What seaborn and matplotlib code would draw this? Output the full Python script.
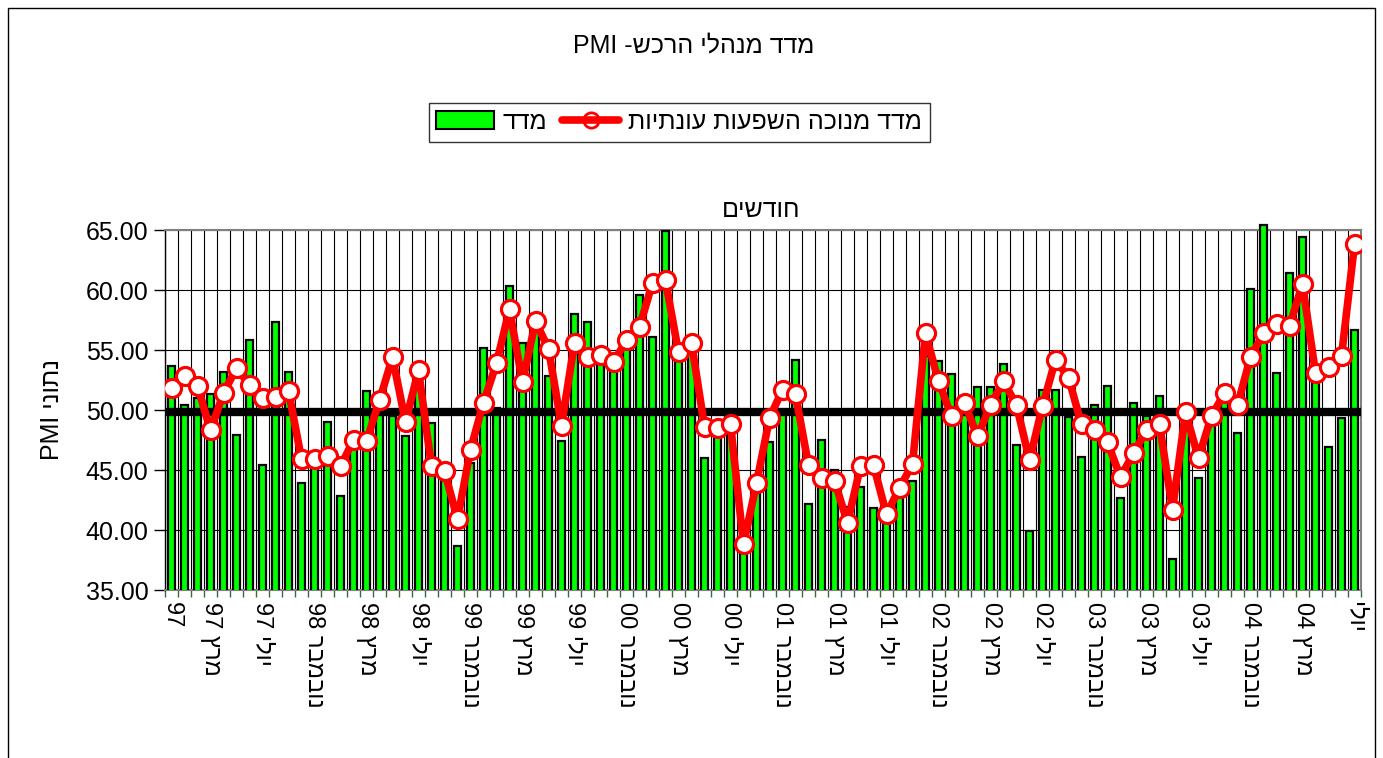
import re
import numpy as np
import pandas as pd
import matplotlib
matplotlib.use("Agg")
import matplotlib.pyplot as plt
import seaborn as sns
from matplotlib.patches import Patch, Rectangle
from matplotlib.lines import Line2D

# ---------------- data ----------------
pmi = [53.7, 50.4, 51.0, 51.3, 53.2, 47.9, 55.8, 45.4, 57.3, 53.2,
       43.9, 45.5, 49.0, 42.8, 47.0, 51.6, 50.0, 49.5, 47.8, 53.2,
       48.9, 45.0, 38.7, 45.6, 55.2, 50.2, 60.3, 55.6, 57.0, 52.8,
       47.4, 58.0, 57.3, 54.5, 54.0, 55.3, 59.6, 56.1, 64.9, 54.5,
       56.1, 46.0, 48.3, 48.5, 38.5, 44.0, 47.3, 50.0, 54.2, 42.2,
       47.5, 45.0, 41.9, 43.6, 41.8, 42.0, 43.8, 44.1, 54.5, 54.1,
       53.0, 50.5, 51.9, 51.9, 53.8, 47.1, 39.9, 51.7, 51.7, 49.4,
       46.1, 50.4, 52.0, 42.7, 50.6, 49.5, 51.2, 37.6, 49.5, 44.3,
       49.7, 51.0, 48.1, 60.1, 65.4, 53.1, 61.4, 64.4, 52.8, 46.9,
       49.3, 56.7]

pmi_sa = [51.8, 52.8, 52.0, 48.3, 51.4, 53.5, 52.1, 51.0, 51.1, 51.6,
          45.9, 45.9, 46.2, 45.3, 47.5, 47.4, 50.8, 54.4, 49.0, 53.3,
          45.3, 44.9, 40.9, 46.7, 50.6, 53.9, 58.4, 52.3, 57.4, 55.1,
          48.7, 55.6, 54.4, 54.6, 54.0, 55.8, 56.9, 60.6, 60.8, 54.8,
          55.6, 48.6, 48.5, 48.8, 38.8, 43.9, 49.3, 51.7, 51.3, 45.4,
          44.3, 44.1, 40.6, 45.3, 45.4, 41.3, 43.5, 45.5, 56.4, 52.4,
          49.5, 50.6, 47.8, 50.4, 52.4, 50.4, 45.8, 50.3, 54.2, 52.7,
          48.8, 48.3, 47.3, 44.4, 46.4, 48.3, 48.8, 41.7, 49.8, 46.0,
          49.5, 51.4, 50.4, 54.4, 56.4, 57.2, 57.0, 60.5, 53.1, 53.6,
          54.5, 63.8]

threshold = 49.8

label_positions = [1, 4, 8, 12, 16, 20, 24, 28, 32, 36, 40, 44, 48,
                   52, 56, 60, 64, 68, 72, 76, 80, 84, 88, 92]
tick_labels = ["97", "מרץ 97", "יולי 97", "נובמבר 98", "מרץ 98", "יולי 98",
               "נובמבר 99", "מרץ 99", "יולי 99", "נובמבר 00", "מרץ 00", "יולי 00",
               "נובמבר 01", "מרץ 01", "יולי 01", "נובמבר 02", "מרץ 02", "יולי 02",
               "נובמבר 03", "מרץ 03", "יולי 03", "נובמבר 04", "מרץ 04", "יולי"]

title = "מדד מנהלי הרכש- PMI"
x_title = "חודשים"
y_title = "נתוני PMI"
series_bar = "מדד"
series_line = "מדד מנוכה השפעות עונתיות"


def vis(s):
    """Simple RTL -> visual order conversion for matplotlib."""
    r = s[::-1]
    return re.sub(r"[0-9A-Za-z.]+", lambda m: m.group(0)[::-1], r)


# ---------------- style ----------------
sns.set_style("white")
plt.rcParams['font.family'] = ['Liberation Sans', 'DejaVu Sans']
plt.rcParams['text.color'] = 'black'
plt.rcParams['xtick.labelcolor'] = 'black'
plt.rcParams['ytick.labelcolor'] = 'black'
FS = 18

W, H = 1383, 758
fig = plt.figure(figsize=(W / 100, H / 100), dpi=100)
ax = fig.add_axes([165 / W, (H - 590) / H, 1196 / W, 360 / H])

n = len(pmi)
df = pd.DataFrame({"month": np.arange(n), "pmi": pmi, "sa": pmi_sa})

sns.barplot(data=df, x="month", y="pmi", color="#00FF00", saturation=1,
            width=0.5, edgecolor="black", linewidth=1.6, ax=ax, zorder=3)

# let bars poke slightly above the plot top (as in the reference) but not below
clip_box = Rectangle((0, 0), 1, 1.08, transform=ax.transAxes, visible=False)
ax.add_patch(clip_box)
for p in ax.patches:
    if p is not clip_box:
        p.set_clip_path(clip_box)

ax.axhline(threshold, color="black", lw=6, zorder=4)

sns.lineplot(data=df, x="month", y="sa", color="red", lw=5.5, marker="o",
             markersize=13, markerfacecolor="white", markeredgecolor="red",
             markeredgewidth=2.3, ax=ax, zorder=5, legend=False)

ax.set_xlim(-0.5, n - 0.5)
ax.set_ylim(35, 65)
ax.set_yticks(np.arange(35, 65.1, 5))
ax.set_yticklabels([f"{v:.2f}" for v in np.arange(35, 65.1, 5)], fontsize=FS)
ax.tick_params(axis="y", length=8, width=1, color="black", labelcolor="black",
               pad=4, left=True)

ax.set_xticks([p - 1 for p in label_positions])
ax.set_xticklabels([vis(t) for t in tick_labels], rotation=270, fontsize=17,
                   ha="center", va="top")
ax.set_xticks(np.arange(-0.5, n, 1), minor=True)
ax.tick_params(axis="x", which="major", length=0, pad=9, labelcolor="black")
ax.tick_params(axis="x", which="minor", length=5, width=1, color="#3a6b3a",
               bottom=True)

ax.set_axisbelow(True)
ax.grid(False)
ax.grid(which="minor", axis="x", color="black", lw=0.8)
ax.grid(which="major", axis="y", color="black", lw=0.8)

ax.set_xlabel("")
ax.set_ylabel("")
for side in ["top", "right", "bottom"]:
    ax.spines[side].set_color("#808080")
    ax.spines[side].set_linewidth(1.5)
ax.spines["left"].set_color("black")
ax.spines["left"].set_linewidth(1)

fig.text(694 / W, 1 - 45 / H, vis(title), ha="center", va="center",
         fontsize=FS, color="black")
fig.text(761 / W, 1 - 210 / H, vis(x_title), ha="center", va="center",
         fontsize=FS, color="black")
fig.text(52 / W, 1 - 410 / H, vis(y_title), ha="center", va="center",
         rotation=90, fontsize=FS, color="black")

handles = [Patch(facecolor="#00FF00", edgecolor="black", linewidth=1.5),
           Line2D([0], [0], color="red", lw=5.5, marker="o", markersize=11,
                  markerfacecolor="none", markeredgecolor="red",
                  markeredgewidth=2)]
leg = fig.legend(handles, [vis(series_bar), vis(series_line)], loc="center",
                 bbox_to_anchor=(679 / W, 1 - 122 / H), ncol=2, frameon=True,
                 fancybox=False, edgecolor="black", fontsize=FS,
                 handlelength=2.3, handleheight=0.75, columnspacing=0.6,
                 borderpad=0.3, handletextpad=0.35, labelcolor="black")
leg.get_frame().set_linewidth(1)

fig.patches.append(Rectangle((8 / W, -0.05), (1375 - 8) / W, 1.05 - 8 / H,
                             transform=fig.transFigure, fill=False,
                             edgecolor="black", lw=1))

fig.savefig("out.png", dpi=100)
